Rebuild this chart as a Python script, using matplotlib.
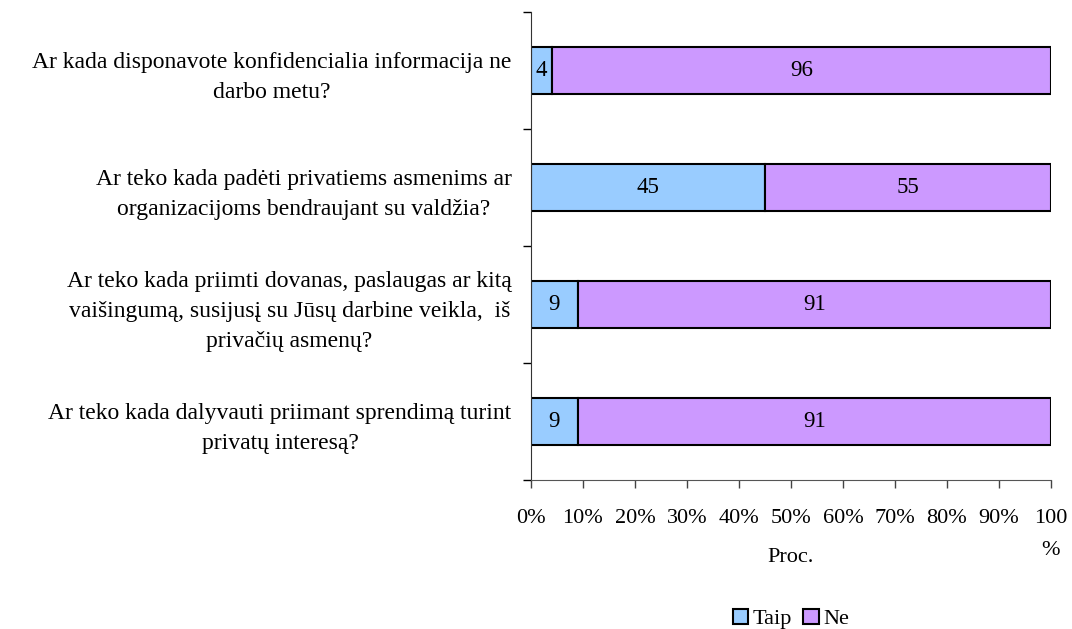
import matplotlib
matplotlib.use("Agg")
import matplotlib.pyplot as plt
import numpy as np

plt.rcParams['font.family'] = ['Liberation Serif', 'DejaVu Serif']

# survey questions (top to bottom) and answers in percent
questions = [
    "Ar kada disponavote konfidencialia informacija ne\ndarbo metu?",
    "Ar teko kada padėti privatiems asmenims ar\norganizacijoms bendraujant su valdžia?",
    "Ar teko kada priimti dovanas, paslaugas ar kitą\nvaišingumą, susijusį su Jūsų darbine veikla,  iš\nprivačių asmenų?",
    "Ar teko kada dalyvauti priimant sprendimą turint\nprivatų interesą?",
]
taip = [4, 45, 9, 9]
ne = [96, 55, 91, 91]
x_ticks = [0, 10, 20, 30, 40, 50, 60, 70, 80, 90, 100]
x_ticklabels = ["0%", "10%", "20%", "30%", "40%", "50%", "60%", "70%", "80%", "90%", "100\n%"]

fs = 16
fig = plt.figure(figsize=(10.72, 6.29), dpi=100)
ax = fig.add_axes([0.4953, 0.2369, 0.4851, 0.7441])

y = np.arange(len(questions))
total = np.array(taip) + np.array(ne)
taip_p = np.array(taip) / total * 100
ne_p = np.array(ne) / total * 100

b1 = ax.barh(y, taip_p, height=0.4, color='#99CCFF', edgecolor='black', linewidth=1.5, label='Taip')
b2 = ax.barh(y, ne_p, left=taip_p, height=0.4, color='#CC99FF', edgecolor='black', linewidth=1.5, label='Ne')

for i in range(len(y)):
    ax.text(taip_p[i] / 2, y[i], str(taip[i]), ha='center', va='center', fontsize=16.5)
    ax.text(taip_p[i] + ne_p[i] / 2, y[i], str(ne[i]), ha='center', va='center', fontsize=16.5)

ax.set_xlim(0, 100)
ax.set_ylim(len(y) - 0.5, -0.5)

# category labels at bar centres, tick marks at the boundaries
ax.set_yticks(y)
ax.set_yticklabels(questions, fontsize=17, multialignment='center', linespacing=1.55)
ax.tick_params(axis='y', which='major', length=0, pad=14)
ax.set_yticks(np.arange(-0.5, len(y)), minor=True)
ax.tick_params(axis='y', which='minor', length=6, width=1, direction='out')

ax.set_xticks(x_ticks)
ax.set_xticklabels(x_ticklabels, fontsize=fs, va='top', linespacing=1.9)
ax.tick_params(axis='x', length=6, width=1, direction='out', pad=15, color='#444444')

for s in ['top', 'right']:
    ax.spines[s].set_visible(False)
ax.spines['left'].set_color('#333333')
ax.spines['bottom'].set_color('#555555')

fig.text(791 / 1072, 1 - 558 / 629, "Proc.", ha='center', va='center', fontsize=fs)

fig.legend(handles=[b1, b2], loc='center', bbox_to_anchor=(791 / 1072, 1 - 619 / 629),
           ncol=2, frameon=False, fontsize=fs, handlelength=0.7, handleheight=0.7,
           handletextpad=0.2, columnspacing=0.5, borderaxespad=0, borderpad=0)

fig.savefig("out.png", dpi=100)
